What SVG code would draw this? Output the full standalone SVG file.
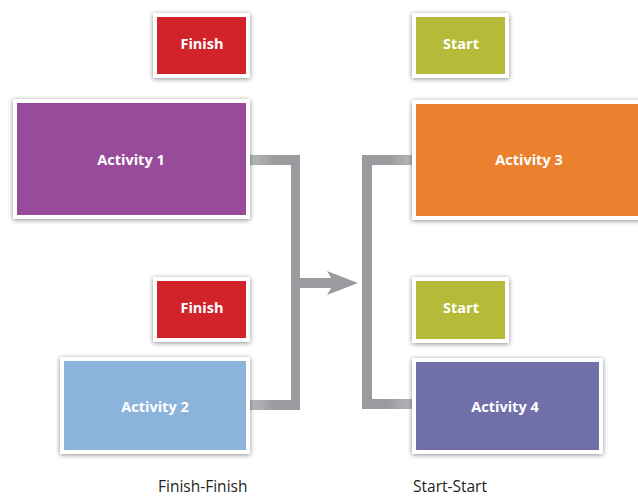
<svg xmlns="http://www.w3.org/2000/svg" width="638" height="498" viewBox="0 0 638 498">
<defs>
<filter id="sh" x="-20%" y="-20%" width="140%" height="140%">
<feDropShadow dx="0" dy="1" stdDeviation="2.5" flood-color="#000" flood-opacity="0.45"/>
</filter>
<linearGradient id="gh" x1="0" x2="1" y1="0" y2="0">
<stop offset="0" stop-color="#b8b9bc"/>
<stop offset="0.5" stop-color="#9a9b9f"/>
<stop offset="1" stop-color="#9a9b9f"/>
</linearGradient>
<linearGradient id="gh2" x1="1" x2="0" y1="0" y2="0">
<stop offset="0" stop-color="#b8b9bc"/>
<stop offset="0.5" stop-color="#9a9b9f"/>
<stop offset="1" stop-color="#9a9b9f"/>
</linearGradient>
</defs>
<style>
.box{stroke:#fff;stroke-width:4;filter:url(#sh)}
.lbl{font-family:"Open Sans","DejaVu Sans",sans-serif;font-weight:bold;font-size:14.5px;fill:#fff;text-anchor:middle}
.cap{font-family:"Open Sans","DejaVu Sans",sans-serif;font-size:15.5px;fill:#231f20}
.ln{fill:#9a9b9f}
</style>
<rect width="638" height="498" fill="#fff"/>
<g id="connectors">
<rect x="250" y="155" width="50" height="10" fill="url(#gh)"/>
<rect x="250" y="400" width="50" height="10" fill="url(#gh)"/>
<rect class="ln" x="291" y="155" width="9" height="255"/>
<rect class="ln" x="300" y="278" width="34" height="10"/>
<polygon class="ln" points="358,283 327,271 334,283 327,295"/>
<rect x="362" y="155" width="52" height="10" fill="url(#gh2)"/>
<rect x="362" y="399" width="52" height="10" fill="url(#gh2)"/>
<rect class="ln" x="362" y="155" width="10" height="254"/>
</g>
<g id="finish1">
<rect class="box" x="155" y="15" width="93" height="61" fill="#d2212b"/>
<text class="lbl" x="202" y="49">Finish</text>
</g>
<g id="activity1">
<rect class="box" x="15" y="101" width="233" height="116" fill="#994c9b"/>
<text class="lbl" x="131" y="165">Activity 1</text>
</g>
<g id="finish2">
<rect class="box" x="155" y="279" width="93" height="61" fill="#d2212b"/>
<text class="lbl" x="202" y="313">Finish</text>
</g>
<g id="activity2">
<rect class="box" x="62" y="359" width="186" height="93" fill="#8cb4db"/>
<text class="lbl" x="155" y="412">Activity 2</text>
</g>
<g id="start1">
<rect class="box" x="414" y="15" width="93" height="61" fill="#b5bb37"/>
<text class="lbl" x="461" y="49">Start</text>
</g>
<g id="activity3">
<rect class="box" x="414" y="102" width="234" height="116" fill="#eb812d"/>
<text class="lbl" x="529" y="165">Activity 3</text>
</g>
<g id="start2">
<rect class="box" x="414" y="279" width="93" height="62" fill="#b5bb37"/>
<text class="lbl" x="461" y="313">Start</text>
</g>
<g id="activity4">
<rect class="box" x="414" y="360" width="187" height="92" fill="#7170a9"/>
<text class="lbl" x="505" y="412">Activity 4</text>
</g>
<text class="cap" x="158" y="492">Finish-Finish</text>
<text class="cap" x="413" y="492">Start-Start</text>
</svg>
